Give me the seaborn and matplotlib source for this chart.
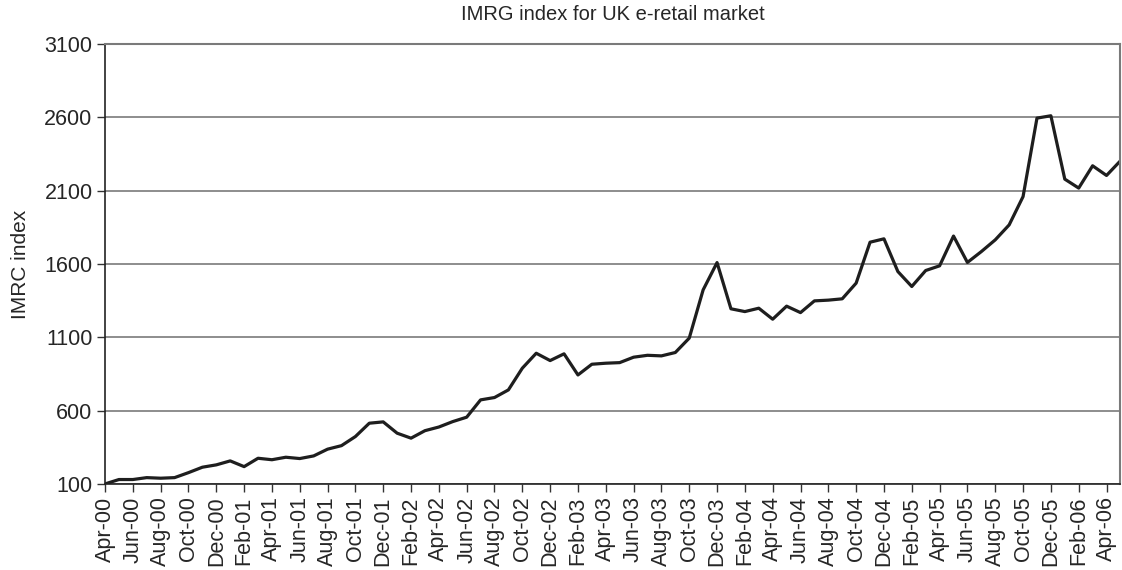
# IMRG index for UK e-retail market, monthly Apr-00 .. May-06
import pandas as pd
import matplotlib.pyplot as plt
import seaborn as sns

months = pd.date_range('2000-04-01', periods=74, freq='MS').strftime('%b-%y').tolist()

index_values = [
    100, 130, 130, 143, 139, 143, 177, 214, 230, 257, 218, 275,      # Apr-00 .. Mar-01
    265, 282, 273, 291, 337, 361, 423, 514, 523, 446, 412, 463,      # Apr-01 .. Mar-02
    488, 525, 555, 673, 689, 741, 889, 991, 941, 987, 843, 916,      # Apr-02 .. Mar-03
    923, 927, 964, 977, 973, 996, 1094, 1423, 1609, 1294, 1275, 1298,  # Apr-03 .. Mar-04
    1223, 1312, 1268, 1348, 1353, 1362, 1469, 1748, 1771, 1548, 1446, 1555,  # Apr-04 .. Mar-05
    1587, 1790, 1610, 1684, 1764, 1866, 2059, 2594, 2610, 2178, 2117, 2269,  # Apr-05 .. Mar-06
    2203, 2303,                                                       # Apr-06 .. May-06
]

y_ticks = [100, 600, 1100, 1600, 2100, 2600, 3100]

df = pd.DataFrame({'pos': range(len(months)), 'month': months, 'value': index_values})

sns.set_style('white')
plt.rcParams['font.family'] = ['Liberation Sans', 'DejaVu Sans']

fig = plt.figure(figsize=(11.22, 5.70), dpi=100)
ax = fig.add_axes([0.0936, 0.151, 0.905, 0.772])

sns.lineplot(data=df, x='pos', y='value', color='#1e1e1e', linewidth=2.3, ax=ax)

ax.set_xlim(0, len(months) - 1)
ax.set_ylim(100, 3100)
ax.set_yticks(y_ticks)
ax.set_yticklabels([str(v) for v in y_ticks], fontsize=15.5)
ax.set_xticks(df['pos'][::2])
ax.set_xticklabels(df['month'][::2], rotation=90, fontsize=15.5)

ax.yaxis.grid(True, color='#7a7a7a', linewidth=1.2)
ax.set_axisbelow(True)
ax.tick_params(axis='both', direction='out', length=6, width=1, color='#333333',
               bottom=True, left=True, pad=3)

for side in ['left', 'bottom']:
    ax.spines[side].set_color('#222222')
    ax.spines[side].set_linewidth(1.2)
for side in ['top', 'right']:
    ax.spines[side].set_color('#7a7a7a')
    ax.spines[side].set_linewidth(1.5)

ax.set_xlabel('')
ax.set_ylabel('IMRC index', fontsize=15, labelpad=10)
ax.set_title('IMRG index for UK e-retail market', fontsize=14.5, pad=17)

fig.savefig('out.png', dpi=100)
